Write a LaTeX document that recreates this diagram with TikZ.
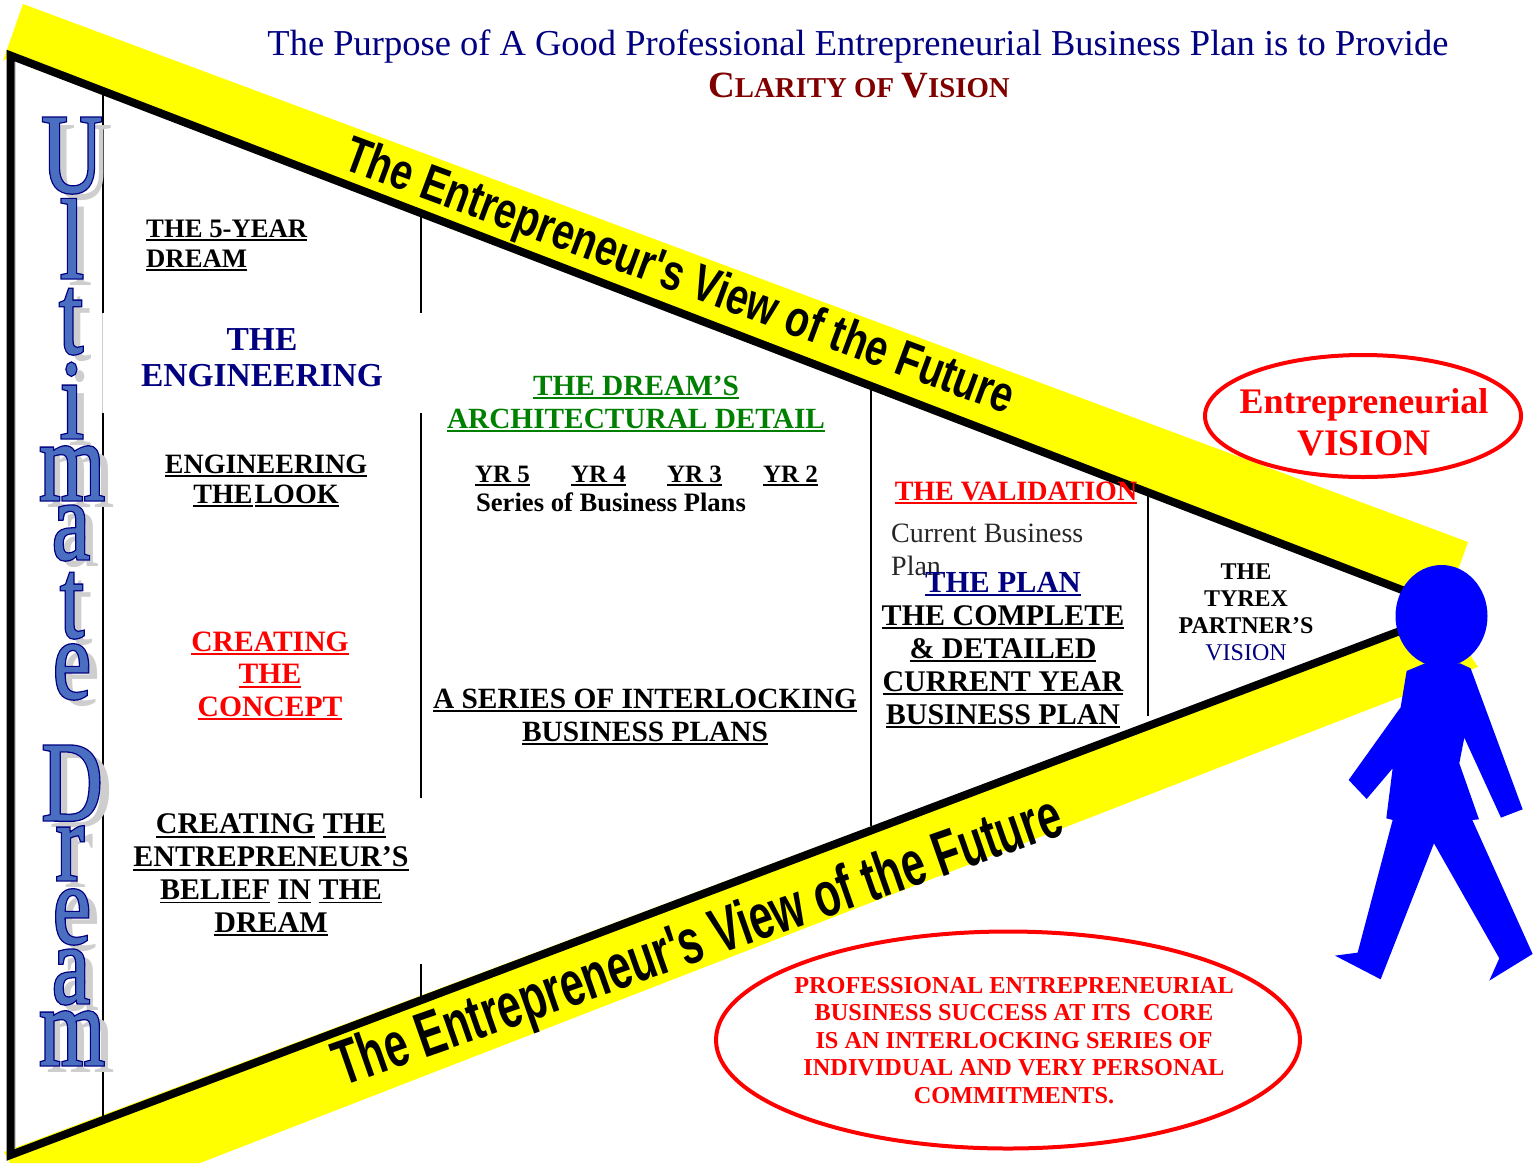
\documentclass[tikz,border=0pt]{standalone}
\usepackage{fontspec}
\setmainfont{Liberation Serif}
\newfontfamily\gr{Liberation Serif}
\newfontfamily\gb{Liberation Serif Bold}
\newfontfamily\wafill[FakeStretch=.74,FakeBold=0.7]{Liberation Serif}
\newfontfamily\washade[FakeStretch=.78]{Liberation Serif}
\newfontfamily\waout[FakeStretch=.74,FakeBold=3]{Liberation Serif}
\newfontfamily\arialb{Liberation Sans Bold}
\usetikzlibrary{shapes.geometric}
\definecolor{navy}{HTML}{000080}
\definecolor{dkred}{HTML}{800000}
\definecolor{dkgreen}{HTML}{008000}
\definecolor{wafillc}{HTML}{4A6EC0}
\definecolor{washad}{HTML}{CECECE}
\definecolor{bandy}{HTML}{FFFF00}
\definecolor{manblue}{HTML}{0000FF}
\definecolor{ovalred}{HTML}{FF0000}
\newcommand\uw[1]{\setbox0\hbox{#1}\rlap{\rule[-4pt]{\wd0}{1.8pt}}\box0\relax}
\newcommand\fs[2]{\fontsize{#1}{#2}\selectfont}
\newcommand\ltr[4]{%
  \node[waletter,text=washad] (#1s) at (#2+9,#3+7) {\washade #4};
  \node[waletter,text=navy] (#1o) at (#2,#3) {\waout #4};
  \node[waletter,text=wafillc] (#1f) at (#2,#3) {\wafill #4};
}
\tikzset{
  label/.style={inner sep=0pt,anchor=base,align=center},
  band/.style={fill=bandy,draw=none},
  divider/.style={draw=black,line width=1.3pt},
  faint/.style={draw=washad,line width=1pt},
  frame/.style={draw=black,line width=8pt,miter limit=20},
  oval/.style={draw=ovalred,line width=4pt,shape=ellipse,inner sep=0pt,fill=none},
  waletter/.style={inner sep=0pt,anchor=base,font=\fs{113}{113}},
  bandtext/.style={inner sep=0pt,anchor=base west,font=\arialb,text=black},
  person/.style={fill=manblue,draw=none}
}
\begin{document}
\begin{tikzpicture}[x=1pt,y=-1pt]
\useasboundingbox (0,0) rectangle (1534,1163);
\clip (0,0) rectangle (1534,1163);
% yellow bands
\path[band] (23,4) -- (1468,542) -- (1440,620) -- (1405,591) -- (10.5,55.5) -- (3,61) -- cycle;
\path[band] (4,1152) -- (1400,628) -- (1440,610) -- (1478,667) -- (200,1163) -- (10,1163) -- cycle;
% dividers
\draw[divider] (103,95) -- (103,313);
\draw[faint] (102,313) -- (102,413);
\draw[divider] (103,413) -- (103,1116);
\draw[divider] (421,216) -- (421,313);
\draw[divider] (421,413) -- (421,798);
\draw[divider] (421,964) -- (421,997);
\draw[divider] (871,389) -- (871,826);
\draw[divider] (1148,495) -- (1148,716);
\draw[faint] (15,62) -- (15,1148);
% frame
\draw[frame] (1410,593) -- (10.5,55.5) -- (10.5,1155) -- (1400,631);
% person
\begin{scope}[shift={(1130,500)},x=0.3333pt,y=-0.3333pt]
\path[person] (830,513) -- (885,490) -- (990,490) -- (1022,505) -- (1178,928) -- (1113,953) -- (1003,713) -- (988,790) -- (1047,958) -- (1027,960) -- (1208,1362) -- (1078,1442) -- (1108,1375) -- (912,1030) -- (752,1438) -- (615,1367) -- (683,1358) -- (788,960) -- (769,955) -- (788,805) -- (710,897) -- (656,840) -- (812,622) -- cycle;
\end{scope}
\node[person,shape=ellipse,minimum width=92pt,minimum height=102pt,inner sep=0pt] (head) at (1441.5,616) {};
% band texts
\node[bandtext,rotate=-20.3] (bandtop) at (341,168) {\resizebox{710pt}{37pt}{The Entrepreneur's View of the Future}};
\node[bandtext,rotate=19.3] (bandbot) at (342,1087) {\resizebox{767pt}{46pt}{The Entrepreneur's View of the Future}};
% title
\node[label,text=navy,font=\gr\fs{36.5}{40}] (title) at (858,55) {The Purpose of A Good Professional Entrepreneurial Business Plan is to Provide};
\node[label,text=dkred,font=\gb\fs{28.8}{34}] (clarity) at (859,97) {{\fs{37}{34}C}LARITY OF {\fs{37}{34}V}ISION};
% Ultimate Dream
\ltr{a}{72}{192}{U}
\ltr{b}{72}{278}{l}
\ltr{c}{71}{353}{t}
\ltr{d}{72}{438}{i}
\ltr{e}{72}{500}{m}
\ltr{f}{71}{559}{a}
\ltr{g}{72}{637}{t}
\ltr{h}{72}{698}{e}
\ltr{i}{72}{820}{D}
\ltr{j}{70}{880}{r}
\ltr{k}{72}{943}{e}
\ltr{l}{71}{1003}{a}
\ltr{m}{72}{1065}{m}
% column 1
\node[label,anchor=base west,align=left,font=\gb\fs{26.7}{30}] (dream) at (146,267) {\uw{THE 5-YEAR}\\\uw{DREAM}};
\node[label,text=navy,font=\gb\fs{33.5}{36}] (eng) at (262,386) {THE\\ENGINEERING};
\node[label,font=\gb\fs{28}{30}] (look) at (266,503) {\uw{ENGINEERING}\\\uw{THE}\hspace{2pt}\uw{LOOK}};
\node[label,text=red,font=\gb\fs{29.6}{32.5}] (concept) at (270,716) {\uw{CREATING}\\\uw{THE}\\\uw{CONCEPT}};
\node[label,font=\gb\fs{30}{32.7}] (belief) at (271,932) {\uw{CREATING} \uw{THE}\\\uw{ENTREPRENEUR’S}\\\uw{BELIEF} \uw{IN} \uw{THE}\\\uw{DREAM}};
% column 2
\node[label,text=dkgreen,font=\gb\fs{29.3}{33}] (arch) at (636,428) {\uw{THE DREAM’S}\\\uw{ARCHITECTURAL DETAIL}};
\node[label,font=\gb\fs{25}{29}] (yr5) at (502.5,482) {\uw{YR 5}};
\node[label,font=\gb\fs{25}{29}] (yr4) at (598.5,482) {\uw{YR 4}};
\node[label,font=\gb\fs{25}{29}] (yr3) at (694.5,482) {\uw{YR 3}};
\node[label,font=\gb\fs{25}{29}] (yr2) at (790.5,482) {\uw{YR 2}};
\node[label,font=\gb\fs{26.6}{29}] (series) at (611,511) {Series of Business Plans};
\node[label,font=\gb\fs{29.4}{33}] (inter) at (645,708) {\uw{A SERIES OF INTERLOCKING}};
\node[label,font=\gb\fs{29.4}{33}] (inter2) at (645,741) {\uw{BUSINESS PLANS}};
% column 3
\node[label,text=red,font=\gb\fs{28}{30}] (valid) at (1016,500) {\uw{THE VALIDATION}};
\node[label,anchor=base west,align=left,text=black!85,font=\gr\fs{28}{33}] (current) at (891,575) {Current Business\\Plan};
\node[label,text=navy,font=\gb\fs{30.6}{33}] (plan) at (1003,592) {\uw{THE PLAN}};
\node[label,font=\gb\fs{30}{33}] (complete) at (1003,724) {\uw{THE COMPLETE}\\\uw{\& DETAILED}\\\uw{CURRENT YEAR}\\\uw{BUSINESS PLAN}};
% column 4
\node[label,font=\gb\fs{24}{27}] (tyrex) at (1246,660) {THE\\TYREX\\PARTNER’S\\{\color{navy}\gr VISION}};
% ovals
\node[oval,minimum width=316pt,minimum height=122pt] (ovala) at (1363,416) {};
\node[label,text=red,font=\gb\fs{36}{42}] (vision) at (1364,455) {Entrepreneurial\\{\fs{37.5}{42}VISION}};
\node[oval,minimum width=584pt,minimum height=217pt] (ovalb) at (1008,1040) {};
\node[label,text=red,font=\gb\fs{24.3}{27.5}] (commit) at (1014,1103) {PROFESSIONAL ENTREPRENEURIAL\\BUSINESS SUCCESS AT ITS \ CORE\\IS AN INTERLOCKING SERIES OF\\INDIVIDUAL AND VERY PERSONAL\\COMMITMENTS.};
\end{tikzpicture}
\end{document}
